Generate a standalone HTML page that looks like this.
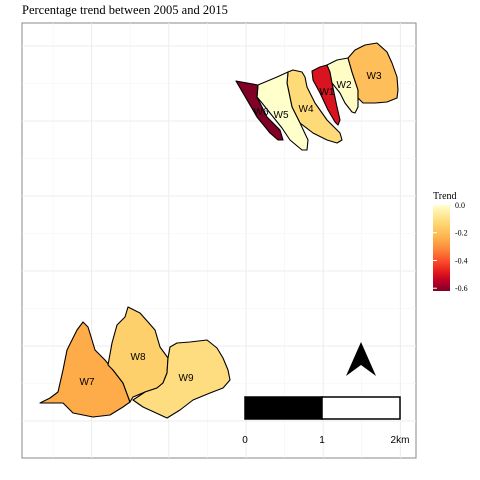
<!DOCTYPE html>
<html><head><meta charset="utf-8"><style>
body{margin:0;background:#fff}
svg{display:block}
text{font-family:"Liberation Sans",sans-serif}
.serif{font-family:"Liberation Serif",serif}
</style></head><body>
<svg id="chart" width="480" height="480" viewBox="0 0 480 480">
<text class="serif" x="22" y="14" font-size="12.5" fill="#000">Percentage trend between 2005 and 2015</text>
<rect x="22" y="23" width="394" height="435" fill="#fff" stroke="#888" stroke-width="1"/>
<g id="grid"></g>
<g id="regions"></g>
<g id="labels"></g>
<g>
<rect x="245" y="397" width="77" height="22" fill="#000" stroke="#000" stroke-width="1.5"/>
<rect x="322" y="397" width="78" height="22" fill="#fff" stroke="#000" stroke-width="1.5"/>
<text x="245" y="443" font-size="10" text-anchor="middle">0</text>
<text x="322" y="443" font-size="10" text-anchor="middle">1</text>
<text x="400" y="443" font-size="10" text-anchor="middle">2km</text>
</g>
<polygon points="361,342 346,376 361,365 376,376" fill="#000"/>
<g>
<text class="serif" x="433" y="199" font-size="10">Trend</text>
<defs><linearGradient id="lg" x1="0" y1="0" x2="0" y2="1">
<stop offset="0" stop-color="#ffffcc"/><stop offset="0.2" stop-color="#fed976"/>
<stop offset="0.38" stop-color="#feb24c"/><stop offset="0.5" stop-color="#fd8d3c"/>
<stop offset="0.65" stop-color="#fc4e2a"/><stop offset="0.78" stop-color="#e31a1c"/>
<stop offset="0.88" stop-color="#bd0026"/><stop offset="1" stop-color="#800026"/></linearGradient></defs>
<rect x="433" y="205" width="17" height="86" fill="url(#lg)"/>
<g id="legticks"></g>
</g>
</svg>
<script>
const regionNames=["W1","W2","W3","W4","W5","W6","W7","W8","W9"];
const trendValues=[-0.5,-0.01,-0.2,-0.12,0.0,-0.62,-0.25,-0.15,-0.11];
const legendTicks=[0.0,-0.2,-0.4,-0.6];
const legendTickLabels=["0.0","-0.2","-0.4","-0.6"];
const shapes={
W1:[[312,71],[320,67],[327,65],[330,72],[332,83],[337,107],[340,120],[338,125],[335,122],[328,110],[320,93],[313,80]],
W2:[[327,65],[337,60],[348,58],[352,72],[358,90],[358,107],[355,113],[352,112],[345,103],[340,93],[332,83],[330,72]],
W3:[[348,58],[355,50],[365,45],[377,43],[387,52],[392,63],[397,77],[398,90],[397,98],[387,102],[375,103],[363,103],[358,98],[358,90],[352,72]],
W4:[[288,72],[293,70],[302,72],[305,77],[307,87],[315,103],[327,120],[340,133],[342,140],[337,143],[327,140],[313,133],[300,123],[292,107],[287,83]],
W5:[[258,85],[277,77],[288,72],[287,83],[292,107],[300,123],[308,140],[307,150],[302,150],[290,140],[282,128],[270,113],[262,103],[257,97]],
W6:[[236,81],[258,85],[257,97],[267,117],[280,130],[283,140],[278,140],[270,133],[257,117],[243,93]],
W7:[[40,403],[50,398],[58,392],[63,370],[67,350],[77,330],[83,322],[88,327],[92,340],[95,350],[105,360],[113,370],[123,383],[130,402],[123,407],[110,415],[93,417],[73,413],[63,403],[50,403]],
W8:[[108,365],[112,343],[117,325],[125,317],[128,307],[140,313],[148,322],[155,330],[160,347],[168,358],[167,373],[163,383],[157,388],[145,392],[133,397],[130,402],[123,383],[113,370]],
W9:[[168,358],[170,347],[177,343],[190,342],[207,340],[217,348],[223,358],[228,370],[230,380],[223,388],[210,393],[193,400],[180,410],[167,418],[143,407],[133,400],[145,392],[157,388],[163,383],[167,373]]
};
const labelPos={W1:[327,95],W2:[344,88],W3:[374,79],W4:[306,112],W5:[281,118],W6:[261,115],W7:[87,385],W8:[138,360],W9:[186,381]};
const NS="http://www.w3.org/2000/svg";
const stops=[[0,"#ffffcc"],[0.2,"#fed976"],[0.38,"#feb24c"],[0.5,"#fd8d3c"],[0.65,"#fc4e2a"],[0.78,"#e31a1c"],[0.88,"#bd0026"],[1,"#800026"]];
const vMax=0.0,vMin=-0.62;
function tPos(v){return (vMax-v)/(vMax-vMin);}
function hex(c){return [1,3,5].map(i=>parseInt(c.substr(i,2),16));}
function color(v){let t=Math.max(0,Math.min(1,tPos(v)));
for(let i=1;i<stops.length;i++){if(t<=stops[i][0]){const a=stops[i-1],b=stops[i];const f=(t-a[0])/(b[0]-a[0]);const ca=hex(a[1]),cb=hex(b[1]);return "rgb("+ca.map((x,k)=>Math.round(x+(cb[k]-x)*f)).join(",")+")";}}
return stops[stops.length-1][1];}
function yLeg(v){return 205+86*tPos(v);}
const grid=document.getElementById('grid');
for(let i=0;i<10;i++){const x=53+i*38.6;const l=document.createElementNS(NS,'line');l.setAttribute('x1',x);l.setAttribute('x2',x);l.setAttribute('y1',23);l.setAttribute('y2',458);l.setAttribute('stroke',i%2?'#ececec':'#f3f3f3');l.setAttribute('stroke-width',i%2?1:0.6);


grid.appendChild(l);}
for(let i=0;i<11;i++){const y=46+i*37.5;const l=document.createElementNS(NS,'line');l.setAttribute('y1',y);l.setAttribute('y2',y);l.setAttribute('x1',22);l.setAttribute('x2',416);l.setAttribute('stroke',i%2?'#f3f3f3':'#ececec');l.setAttribute('stroke-width',i%2?0.6:1);


grid.appendChild(l);}
const rg=document.getElementById('regions'),lb=document.getElementById('labels');
regionNames.forEach((n,i)=>{const p=document.createElementNS(NS,'polygon');p.setAttribute('points',shapes[n].map(q=>q.join(',')).join(' '));p.setAttribute('fill',color(trendValues[i]));p.setAttribute('stroke','#000');p.setAttribute('stroke-width','1.1');p.setAttribute('stroke-linejoin','round');


rg.appendChild(p);
const t=document.createElementNS(NS,'text');t.setAttribute('x',labelPos[n][0]);t.setAttribute('y',labelPos[n][1]);t.setAttribute('font-size','10');t.setAttribute('text-anchor','middle');t.textContent=n;


lb.appendChild(t);});
const lt=document.getElementById('legticks');
legendTicks.forEach((v,i)=>{const y=yLeg(v);
const a=document.createElementNS(NS,'line');a.setAttribute('x1',433);a.setAttribute('x2',437);a.setAttribute('y1',y);a.setAttribute('y2',y);a.setAttribute('stroke','#fff');


lt.appendChild(a);
const t=document.createElementNS(NS,'text');t.setAttribute('x',455);t.setAttribute('y',y+3);t.setAttribute('font-size','8');t.setAttribute('class','serif');t.textContent=legendTickLabels[i];


lt.appendChild(t);});
</script>
</body></html>
